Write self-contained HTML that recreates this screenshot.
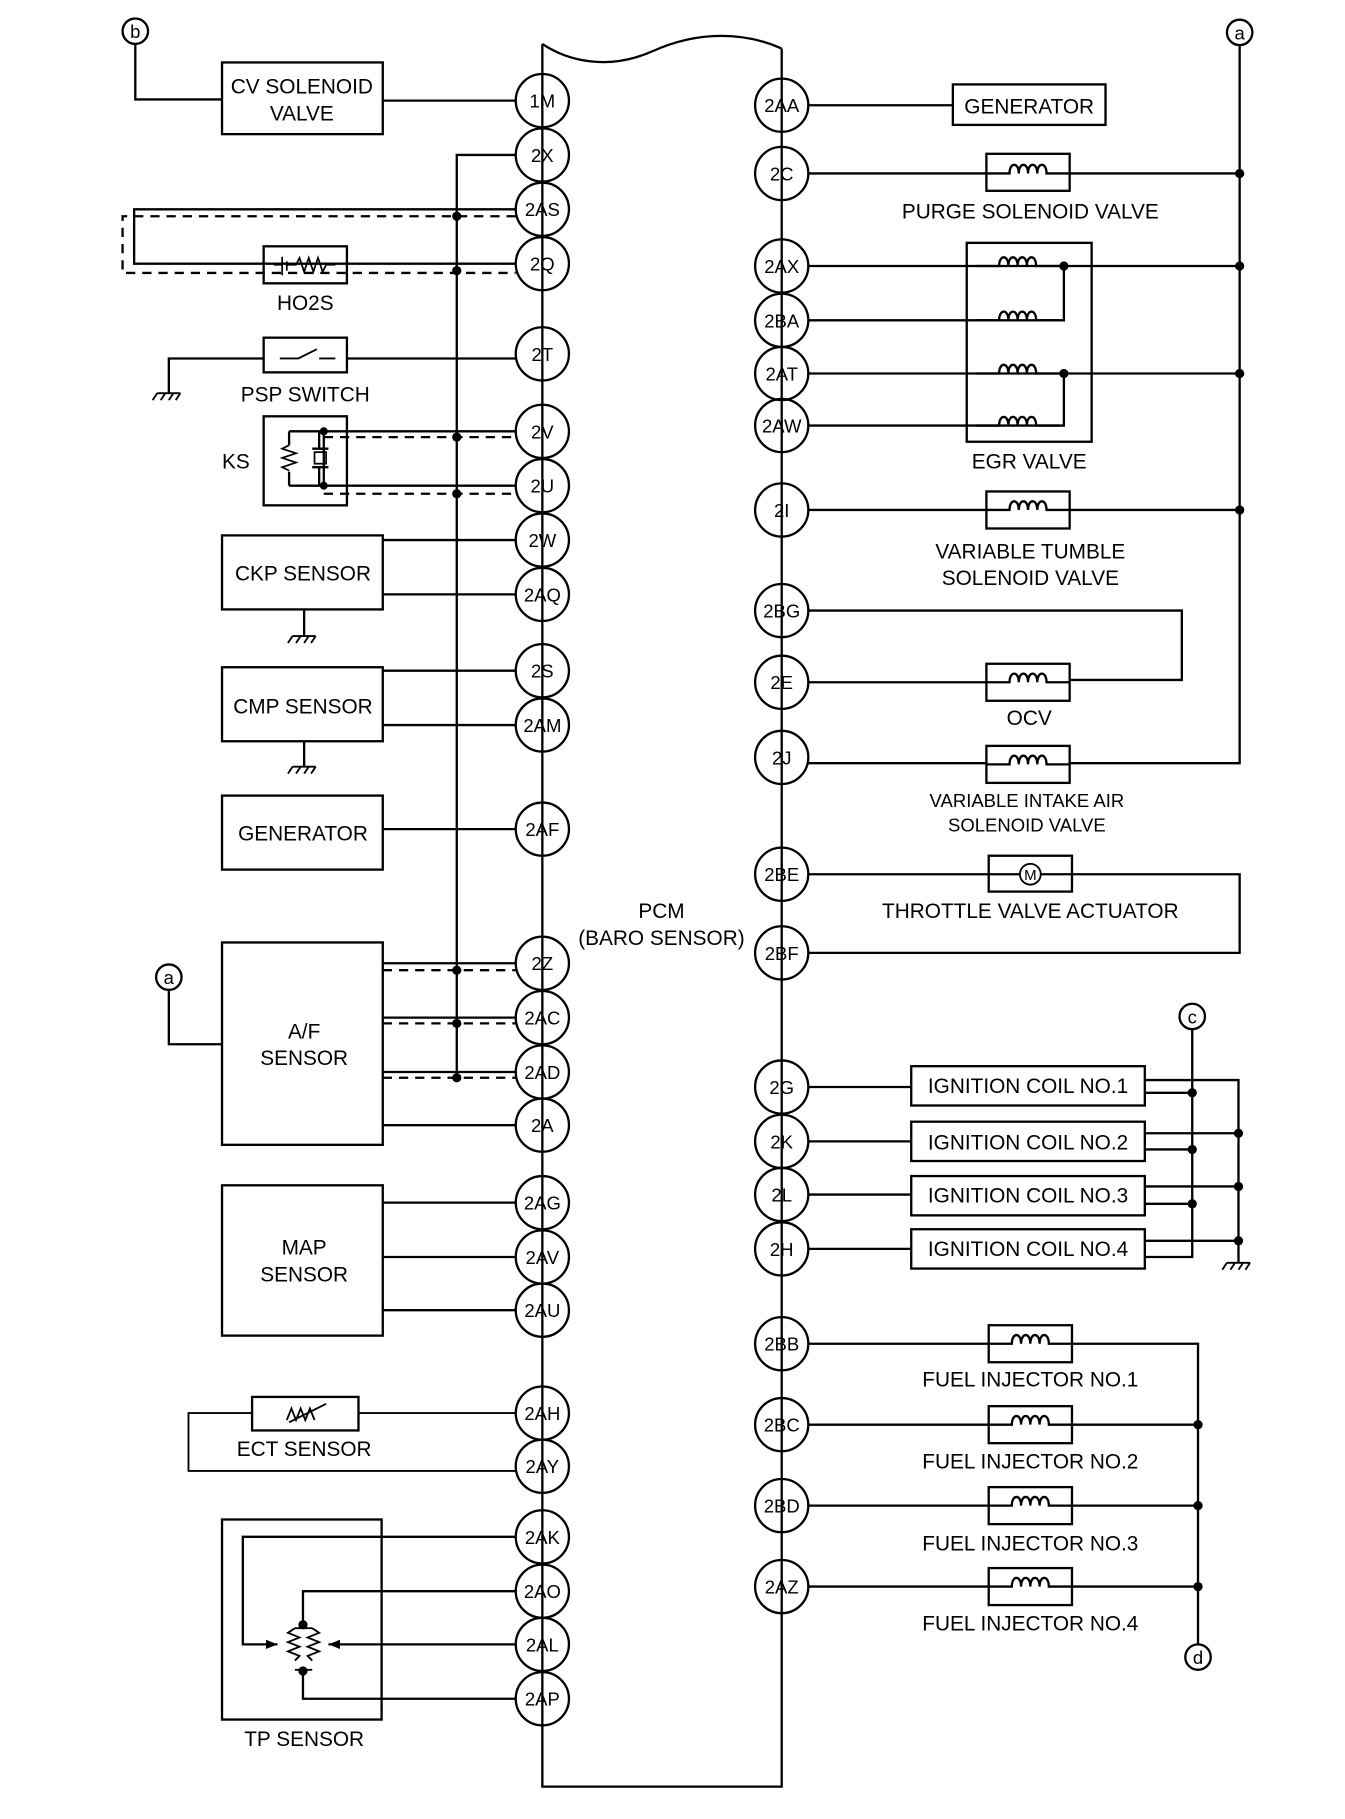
<!DOCTYPE html>
<html><head><meta charset="utf-8"><style>
html,body{margin:0;padding:0;background:#fff;}
svg{display:block;}
text{font-family:"Liberation Sans",Arial,sans-serif;font-size:18px;fill:#000;}
.p{font-size:16px;text-anchor:middle;}
.c{text-anchor:middle;}
</style></head><body>
<svg width="1345" height="1819" viewBox="0 0 1163 1573" preserveAspectRatio="xMinYMin meet" xmlns="http://www.w3.org/2000/svg">
<defs>
<g id="coil"><path d="M-36,0 H-16 c0,-10 8,-10 8,0 c0,-10 8,-10 8,0 c0,-10 8,-10 8,0 c0,-10 8,-10 8,0 H36" fill="none" stroke="#000" stroke-width="2"/></g>
<g id="gnd"><path d="M-10,0 H10 M-10,0 l-4,6 M-3,0 l-4,6 M4,0 l-4,6 M10,0 l-4,6" stroke="#000" stroke-width="1.6" fill="none"/></g>
</defs>
<g stroke="#000" stroke-width="2" fill="none">
<path d="M469,38 V1545 H676 V42 M469,38 C490,52 525,62 565,44 C605,26 645,28 676,42"/>
<path d="M117,38 V86 H192 M331,87 H446"/>
<rect x="192" y="54" width="139" height="62"/>
<path d="M446,134 H395 V932"/>
<path d="M446,181 H116 V228 H446"/>
<path d="M446,187 H106 V236 H446" stroke-dasharray="8,6"/>
<rect x="228" y="213" width="72" height="32"/>
<path d="M146,340 V310 H228 M300,310 H446"/>
<rect x="228" y="292" width="72" height="30"/>
<path d="M242,310 H258 L274,302 M276,310 H290" stroke-width="1.6"/>
<rect x="228" y="360" width="72" height="77"/>
<path d="M280,373 H446 M280,420 H446 M250,373 H280 V420 H250 M250,373 V385 M250,408 V420 M276,373 V388 M276,404 V420 M270,388 H284 M270,404 H284"/>
<rect x="272" y="391" width="10" height="10" stroke-width="1.5"/>
<path d="M250,385 l-6,3 12,4 -12,4 12,4 -12,4 6,3" stroke-width="1.5"/>
<path d="M280,378 H446 M280,427 H446" stroke-dasharray="8,6"/>
<rect x="192" y="463" width="139" height="64"/>
<path d="M331,467 H446 M331,514 H446 M263,527 V550"/>
<rect x="192" y="577" width="139" height="64"/>
<path d="M331,580 H446 M331,627 H446 M263,641 V663"/>
<rect x="192" y="688" width="139" height="64"/>
<path d="M331,717 H446"/>
<rect x="192" y="815" width="139" height="175"/>
<path d="M146,856 V903 H192 M331,833 H446 M331,880 H446 M331,927 H446 M331,973 H446"/>
<path d="M331,839 H446 M331,885 H446 M331,932 H446" stroke-dasharray="8,6"/>
<rect x="192" y="1025" width="139" height="130"/>
<path d="M331,1040 H446 M331,1087 H446 M331,1133 H446"/>
<rect x="218" y="1208" width="92" height="29"/>
<path d="M310,1222 H446 M218,1222 H163 V1272 H446 M248,1228 l4,-10 4,10 4,-10 4,10 4,-10 4,10 M250,1230 L282,1214" stroke-width="1.6"/>
<rect x="192" y="1314" width="138" height="173"/>
<path d="M446,1329 H210 V1422 H240 M446,1376 H262 V1405 M446,1422 H284 M446,1469 H262 V1445"/>
<path d="M255,1408 l-6,4 10,4 -10,4 10,4 -10,4 10,4 -4,4 M270,1408 l6,4 -10,4 10,4 -10,4 10,4 -10,4 4,4 M255,1408 H270 M255,1444 H270" stroke-width="1.6"/>
<path d="M699,91 H824"/><rect x="824" y="73" width="132" height="35"/>
<path d="M1072,39 V660 H925 M699,660 H853 M699,150 H853 M925,150 H1072"/>
<rect x="853" y="133" width="72" height="32"/>
<rect x="836" y="210" width="108" height="172"/>
<path d="M699,230 H1072 M699,277 H920 V230 M699,323 H1072 M699,368 H920 V323"/>
<path d="M699,441 H853 M925,441 H1072"/><rect x="853" y="425" width="72" height="32"/>
<path d="M699,528 H1022 V588 H925 M699,590 H853"/><rect x="853" y="574" width="72" height="32"/>
<rect x="853" y="645" width="72" height="32"/>
<path d="M699,756 H855 M927,756 H1072 V824 H699"/><rect x="855" y="740" width="72" height="31"/>
<path d="M855,756 H882 M900,756 H927"/>
<circle cx="891" cy="756" r="9" stroke-width="1.6"/>
<path d="M699,940 H788 M699,987 H788 M699,1033 H788 M699,1080 H788"/>
<rect x="788" y="922" width="202" height="34"/><rect x="788" y="970" width="202" height="34"/>
<rect x="788" y="1017" width="202" height="34"/><rect x="788" y="1063" width="202" height="34"/>
<path d="M1031,890 V1087 H990 M990,934 H1071 V1092 M990,945 H1031 M990,980 H1071 M990,994 H1031 M990,1026 H1071 M990,1041 H1031 M990,1073 H1071"/>
<path d="M699,1162 H855 M927,1162 H1036 V1422 M699,1232 H855 M927,1232 H1036 M699,1302 H855 M927,1302 H1036 M699,1372 H855 M927,1372 H1036"/>
<rect x="855" y="1146" width="72" height="32"/><rect x="855" y="1216" width="72" height="32"/>
<rect x="855" y="1286" width="72" height="32"/><rect x="855" y="1356" width="72" height="32"/>
</g>
<g stroke="#000" stroke-width="2" fill="none">
<circle cx="117" cy="27" r="11"/><circle cx="1072" cy="28" r="11"/><circle cx="146" cy="845" r="11"/>
<circle cx="1031" cy="879" r="11"/><circle cx="1036" cy="1433" r="11"/>
</g>
<use href="#gnd" x="146" y="340"/><use href="#gnd" x="263" y="550"/><use href="#gnd" x="263" y="663"/><use href="#gnd" x="1071" y="1092"/>
<g>
<use href="#coil" x="889" y="150"/><use href="#coil" x="880" y="230"/><use href="#coil" x="880" y="277"/><use href="#coil" x="880" y="323"/><use href="#coil" x="880" y="368"/>
<use href="#coil" x="889" y="441"/><use href="#coil" x="889" y="590"/><use href="#coil" x="889" y="661"/>
<use href="#coil" x="891" y="1162"/><use href="#coil" x="891" y="1232"/><use href="#coil" x="891" y="1302"/><use href="#coil" x="891" y="1372"/>
</g>
<path d="M244,222 V238 M248,226 V234 M237,229 H244 M248,229 H256 l3,-6 4,12 4,-12 4,12 4,-12 4,12 3,-6 H290" stroke="#000" stroke-width="1.5" fill="none"/>
<path d="M240,1422 l-10,-4 v8 z M284,1422 l10,-4 v8 z" fill="#000"/>
<g fill="#000">
<circle cx="395" cy="187" r="4"/><circle cx="395" cy="234" r="4"/><circle cx="395" cy="378" r="4"/><circle cx="395" cy="427" r="4"/>
<circle cx="280" cy="373" r="3.5"/><circle cx="280" cy="420" r="3.5"/>
<circle cx="395" cy="839" r="4"/><circle cx="395" cy="885" r="4"/><circle cx="395" cy="932" r="4"/>
<circle cx="262" cy="1405" r="4"/><circle cx="262" cy="1445" r="4"/>
<circle cx="1072" cy="150" r="4"/><circle cx="1072" cy="230" r="4"/><circle cx="1072" cy="323" r="4"/><circle cx="1072" cy="441" r="4"/>
<circle cx="920" cy="230" r="4"/><circle cx="920" cy="323" r="4"/>
<circle cx="1031" cy="945" r="4"/><circle cx="1031" cy="994" r="4"/><circle cx="1031" cy="1041" r="4"/>
<circle cx="1071" cy="980" r="4"/><circle cx="1071" cy="1026" r="4"/><circle cx="1071" cy="1073" r="4"/>
<circle cx="1036" cy="1232" r="4"/><circle cx="1036" cy="1302" r="4"/><circle cx="1036" cy="1372" r="4"/>
</g>
<g stroke="#000" stroke-width="2" fill="none">
<circle cx="469" cy="87" r="23"/><circle cx="469" cy="134" r="23"/><circle cx="469" cy="181" r="23"/><circle cx="469" cy="228" r="23"/>
<circle cx="469" cy="306" r="23"/><circle cx="469" cy="373" r="23"/><circle cx="469" cy="420" r="23"/><circle cx="469" cy="467" r="23"/>
<circle cx="469" cy="514" r="23"/><circle cx="469" cy="580" r="23"/><circle cx="469" cy="627" r="23"/><circle cx="469" cy="717" r="23"/>
<circle cx="469" cy="833" r="23"/><circle cx="469" cy="880" r="23"/><circle cx="469" cy="927" r="23"/><circle cx="469" cy="973" r="23"/>
<circle cx="469" cy="1040" r="23"/><circle cx="469" cy="1087" r="23"/><circle cx="469" cy="1133" r="23"/><circle cx="469" cy="1222" r="23"/>
<circle cx="469" cy="1268" r="23"/><circle cx="469" cy="1329" r="23"/><circle cx="469" cy="1376" r="23"/><circle cx="469" cy="1422" r="23"/>
<circle cx="469" cy="1469" r="23"/>
<circle cx="676" cy="91" r="23"/><circle cx="676" cy="150" r="23"/><circle cx="676" cy="230" r="23"/><circle cx="676" cy="277" r="23"/>
<circle cx="676" cy="323" r="23"/><circle cx="676" cy="368" r="23"/><circle cx="676" cy="441" r="23"/><circle cx="676" cy="528" r="23"/>
<circle cx="676" cy="590" r="23"/><circle cx="676" cy="655" r="23"/><circle cx="676" cy="756" r="23"/><circle cx="676" cy="824" r="23"/>
<circle cx="676" cy="940" r="23"/><circle cx="676" cy="987" r="23"/><circle cx="676" cy="1033" r="23"/><circle cx="676" cy="1080" r="23"/>
<circle cx="676" cy="1162" r="23"/><circle cx="676" cy="1232" r="23"/><circle cx="676" cy="1302" r="23"/><circle cx="676" cy="1372" r="23"/>
</g>
<g>
<text x="469" y="93" class="p">1M</text><text x="469" y="140" class="p">2X</text><text x="469" y="187" class="p">2AS</text><text x="469" y="234" class="p">2Q</text>
<text x="469" y="312" class="p">2T</text><text x="469" y="379" class="p">2V</text><text x="469" y="426" class="p">2U</text><text x="469" y="473" class="p">2W</text>
<text x="469" y="520" class="p">2AQ</text><text x="469" y="586" class="p">2S</text><text x="469" y="633" class="p">2AM</text><text x="469" y="723" class="p">2AF</text>
<text x="469" y="839" class="p">2Z</text><text x="469" y="886" class="p">2AC</text><text x="469" y="933" class="p">2AD</text><text x="469" y="979" class="p">2A</text>
<text x="469" y="1046" class="p">2AG</text><text x="469" y="1093" class="p">2AV</text><text x="469" y="1139" class="p">2AU</text><text x="469" y="1228" class="p">2AH</text>
<text x="469" y="1274" class="p">2AY</text><text x="469" y="1335" class="p">2AK</text><text x="469" y="1382" class="p">2AO</text><text x="469" y="1428" class="p">2AL</text>
<text x="469" y="1475" class="p">2AP</text>
<text x="676" y="97" class="p">2AA</text><text x="676" y="156" class="p">2C</text><text x="676" y="236" class="p">2AX</text><text x="676" y="283" class="p">2BA</text>
<text x="676" y="329" class="p">2AT</text><text x="676" y="374" class="p">2AW</text><text x="676" y="447" class="p">2I</text><text x="676" y="534" class="p">2BG</text>
<text x="676" y="596" class="p">2E</text><text x="676" y="661" class="p">2J</text><text x="676" y="762" class="p">2BE</text><text x="676" y="830" class="p">2BF</text>
<text x="676" y="946" class="p">2G</text><text x="676" y="993" class="p">2K</text><text x="676" y="1039" class="p">2L</text><text x="676" y="1086" class="p">2H</text>
<text x="676" y="1168" class="p">2BB</text><text x="676" y="1238" class="p">2BC</text><text x="676" y="1308" class="p">2BD</text><text x="676" y="1378" class="p">2AZ</text>
<text x="117" y="33" class="p">b</text><text x="1072" y="34" class="p">a</text><text x="146" y="851" class="p">a</text><text x="1031" y="885" class="p">c</text><text x="1036" y="1439" class="p">d</text>
<text x="891" y="761" class="p" style="font-size:13px">M</text>
</g>
<g>
<text x="261" y="81" class="c">CV SOLENOID</text><text x="261" y="104" class="c">VALVE</text>
<text x="264" y="268" class="c">HO2S</text><text x="264" y="347" class="c">PSP SWITCH</text><text x="204" y="405" class="c">KS</text>
<text x="262" y="502" class="c">CKP SENSOR</text><text x="262" y="617" class="c">CMP SENSOR</text><text x="262" y="727" class="c">GENERATOR</text>
<text x="263" y="898" class="c">A/F</text><text x="263" y="921" class="c">SENSOR</text>
<text x="263" y="1085" class="c">MAP</text><text x="263" y="1108" class="c">SENSOR</text>
<text x="263" y="1259" class="c">ECT SENSOR</text><text x="263" y="1510" class="c">TP SENSOR</text>
<text x="572" y="794" class="c">PCM</text><text x="572" y="817" class="c">(BARO SENSOR)</text>
<text x="890" y="98" class="c">GENERATOR</text><text x="891" y="189" class="c">PURGE SOLENOID VALVE</text>
<text x="890" y="405" class="c">EGR VALVE</text>
<text x="891" y="483" class="c">VARIABLE TUMBLE</text><text x="891" y="506" class="c">SOLENOID VALVE</text>
<text x="890" y="627" class="c">OCV</text>
<text x="888" y="698" class="c" style="font-size:16px">VARIABLE INTAKE AIR</text><text x="888" y="719" class="c" style="font-size:16px">SOLENOID VALVE</text>
<text x="891" y="794" class="c">THROTTLE VALVE ACTUATOR</text>
<text x="889" y="945" class="c">IGNITION COIL NO.1</text><text x="889" y="994" class="c">IGNITION COIL NO.2</text>
<text x="889" y="1040" class="c">IGNITION COIL NO.3</text><text x="889" y="1086" class="c">IGNITION COIL NO.4</text>
<text x="891" y="1199" class="c">FUEL INJECTOR NO.1</text><text x="891" y="1270" class="c">FUEL INJECTOR NO.2</text>
<text x="891" y="1341" class="c">FUEL INJECTOR NO.3</text><text x="891" y="1410" class="c">FUEL INJECTOR NO.4</text>
</g>
</svg>
</body></html>
